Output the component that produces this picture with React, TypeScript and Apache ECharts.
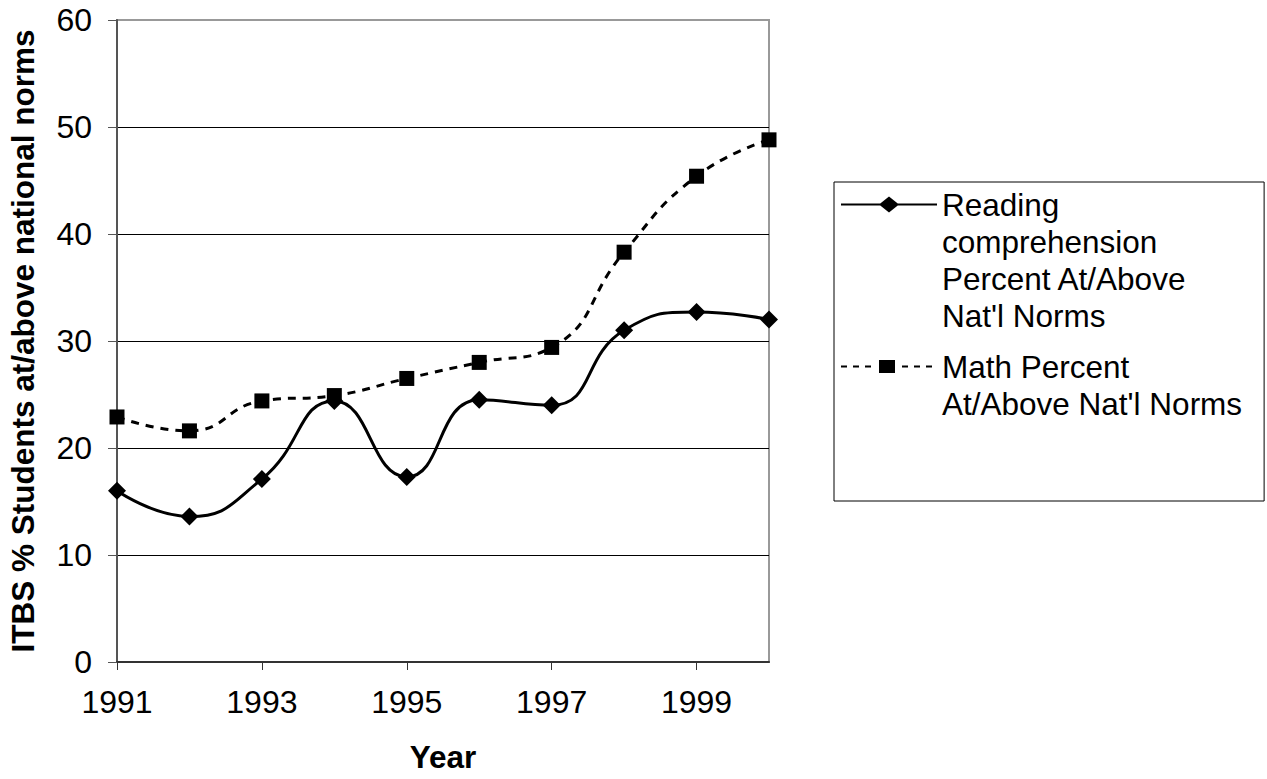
import React, { useEffect, useRef } from "react";
import * as echarts from "echarts";

const years = ["1991", "1992", "1993", "1994", "1995", "1996", "1997", "1998", "1999", "2000"];
const readingValues = [16.0, 13.6, 17.1, 24.4, 17.3, 24.5, 24.0, 31.0, 32.7, 32.0];
const mathValues = [22.9, 21.6, 24.4, 24.9, 26.5, 28.0, 29.4, 38.3, 45.4, 48.8];
const seriesNames = [
  "Reading comprehension Percent At/Above Nat'l Norms",
  "Math Percent At/Above Nat'l Norms",
];
const legendLabels = [
  "Reading\ncomprehension\nPercent At/Above\nNat'l Norms",
  "Math Percent\nAt/Above Nat'l Norms",
];
const xAxisTitle = "Year";
const yAxisTitle = "ITBS % Students at/above national norms";

const FONT = "'Liberation Sans', Arial, sans-serif";

// Legend icon geometry (box W x H; the text block is centred in H)
const ICON_W = 96;
const LINE_H = 37;
const ICON_H = 4 * LINE_H;

function frame(): string {
  return `M0 0 L0 0 Z M${ICON_W} ${ICON_H} L${ICON_W} ${ICON_H} Z `;
}
function rectPath(x0: number, y0: number, x1: number, y1: number): string {
  return `M${x0} ${y0} L${x1} ${y0} L${x1} ${y1} L${x0} ${y1} Z `;
}
function readingIcon(cy: number): string {
  const cx = 48;
  return (
    "path://" +
    frame() +
    rectPath(0, cy - 1, ICON_W, cy + 1) +
    `M${cx} ${cy - 8} L${cx + 10} ${cy} L${cx} ${cy + 8} L${cx - 10} ${cy} Z`
  );
}
function mathIcon(cy: number): string {
  let d = frame();
  [0, 12, 24, 61, 73, 85].forEach((s) => {
    d += rectPath(s, cy - 1, s + 6, cy + 1);
  });
  d += rectPath(38, cy - 6.5, 54, cy + 6.5);
  return "path://" + d;
}

export default function App() {
  const ref = useRef<HTMLDivElement>(null);
  useEffect(() => {
    if (!ref.current) return;
    const chart = echarts.init(ref.current, null, { renderer: "svg" });
    const firstLine4 = ICON_H / 2 - 1.5 * LINE_H; // centre of first of 4 lines
    const firstLine2 = ICON_H / 2 - 0.5 * LINE_H; // centre of first of 2 lines
    chart.setOption({
      animation: false,
      backgroundColor: "#fff",
      textStyle: { fontFamily: FONT, color: "#000" },
      grid: {
        left: 117,
        top: 20,
        width: 652,
        height: 642,
        show: true,
        borderColor: "#999",
        borderWidth: 2,
        backgroundColor: "transparent",
        containLabel: false,
        outerBoundsMode: "none",
      },
      legend: {
        orient: "vertical",
        left: 834,
        top: 182,
        padding: [4, 22, 42, 7],
        borderColor: "#000",
        borderWidth: 1,
        borderRadius: 0,
        itemWidth: ICON_W,
        itemHeight: ICON_H,
        itemGap: -23,
        symbolKeepAspect: true,
        selectedMode: false,
        itemStyle: { borderWidth: 0 },
        textStyle: { fontSize: 31.5, lineHeight: LINE_H, color: "#000", fontFamily: FONT },
        formatter: (name: string) => legendLabels[seriesNames.indexOf(name)],
        data: [
          { name: seriesNames[0], icon: readingIcon(firstLine4) },
          { name: seriesNames[1], icon: mathIcon(firstLine2) },
        ],
      },
      xAxis: {
        type: "category",
        data: years,
        boundaryGap: false,
        name: xAxisTitle,
        nameLocation: "middle",
        nameGap: 79,
        nameTextStyle: { fontSize: 31.5, fontWeight: "bold", color: "#000", fontFamily: FONT },
        axisLine: { show: true, lineStyle: { color: "#333", width: 2 } },
        axisTick: { show: true, interval: 1, length: 8, inside: false, lineStyle: { color: "#333", width: 1 } },
        axisLabel: { interval: 1, fontSize: 32, color: "#000", margin: 24, fontFamily: FONT },
        splitLine: { show: false },
      },
      yAxis: {
        type: "value",
        min: 0,
        max: 60,
        interval: 10,
        name: yAxisTitle,
        nameLocation: "middle",
        nameGap: 78,
        nameRotate: 90,
        nameTextStyle: { fontSize: 31.5, fontWeight: "bold", color: "#000", fontFamily: FONT },
        axisLine: { show: true, lineStyle: { color: "#555", width: 2 } },
        axisTick: { show: true, length: 9, inside: false, lineStyle: { color: "#555", width: 1 } },
        axisLabel: { fontSize: 32, color: "#000", margin: 25, fontFamily: FONT },
        splitLine: { show: true, showMaxLine: false, showMinLine: false, lineStyle: { color: "#000", width: 1 } },
      },
      series: [
        {
          name: seriesNames[0],
          type: "line",
          data: readingValues,
          smooth: 0.5,
          symbol: "diamond",
          symbolSize: 18,
          itemStyle: { color: "#000" },
          lineStyle: { color: "#000", width: 3, type: "solid" },
          z: 3,
        },
        {
          name: seriesNames[1],
          type: "line",
          data: mathValues,
          smooth: 0.5,
          symbol: "rect",
          symbolSize: 15,
          itemStyle: { color: "#000" },
          lineStyle: { color: "#000", width: 3, type: [8, 7] },
          z: 2,
        },
      ],
    });
    return () => chart.dispose();
  }, []);
  return (
    <div
      ref={ref}
      style={{ position: "fixed", left: 0, top: 0, width: 1267, height: 779, background: "#fff" }}
    />
  );
}
